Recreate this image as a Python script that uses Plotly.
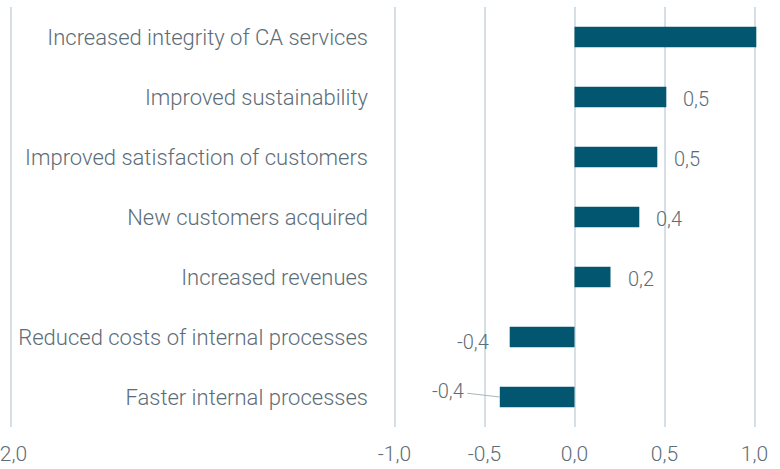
import plotly.graph_objects as go

categories = [
    "Increased integrity of CA services",
    "Improved sustainability",
    "Improved satisfaction of customers",
    "New customers acquired",
    "Increased revenues",
    "Reduced costs of internal processes",
    "Faster internal processes",
]
values = [1.01, 0.51, 0.46, 0.36, 0.20, -0.36, -0.415]
show_label = [False, True, True, True, True, True, True]

tick_values = [-1.0, -0.5, 0.0, 0.5, 1.0]
tick_texts = ["-1,0", "-0,5", "0,0", "0,5", "1,0"]
left_tick_text = "-2,0"

BAR = "#02566f"
TEXT = "#5c6d78"
GRID = "#d6dfe5"
FONT = "Roboto"

W, H = 780, 469
ML, MR, MT, MB = 8, 10, 7, 42
px_per_unit = 180.0
zero_px = 574.5
x_min = (ML - zero_px) / px_per_unit
x_max = (W - MR - zero_px) / px_per_unit
left_tick = (10.5 - zero_px) / px_per_unit

fig = go.Figure()
fig.add_trace(go.Bar(
    x=values, y=categories, orientation="h",
    marker=dict(color=BAR, line=dict(width=0)),
    width=0.34, hoverinfo="skip",
))

def fmt(v):
    return ("%.1f" % v).replace(".", ",")

LBL = dict(family=FONT, size=20, color=TEXT, weight=300)
annotations = []
n = len(categories)
for i, (c, v, s) in enumerate(zip(categories, values, show_label)):
    if not s:
        continue
    if i == n - 1:
        annotations.append(dict(
            x=v, y=c, xref="x", yref="y", text=fmt(v),
            showarrow=True, arrowhead=0, arrowwidth=1, arrowcolor="#a9b5bd",
            ax=-52, ay=-6, standoff=0, startstandoff=2,
            font=LBL,
        ))
    elif v >= 0:
        annotations.append(dict(
            x=v, y=c, xref="x", yref="y", text=fmt(v), showarrow=False,
            xanchor="left", xshift=15, yshift=-2, font=LBL,
        ))
    else:
        annotations.append(dict(
            x=v, y=c, xref="x", yref="y", text=fmt(v), showarrow=False,
            xanchor="right", xshift=-19, yshift=-5, font=LBL,
        ))

fig.update_layout(
    width=W, height=H, autosize=False,
    margin=dict(l=ML, r=MR, t=MT, b=MB, pad=0),
    plot_bgcolor="white", paper_bgcolor="white",
    showlegend=False,
    font=dict(family=FONT, color=TEXT, size=20, weight=300),
    xaxis=dict(
        range=[x_min, x_max],
        tickvals=[left_tick] + tick_values,
        ticktext=[left_tick_text] + tick_texts,
        showgrid=True, gridcolor=GRID, gridwidth=2,
        zeroline=False, showline=False, ticks="",
        ticklabelstandoff=12, automargin=False,
        ticklabeloverflow="allow",
        tickfont=dict(family=FONT, size=21, color=TEXT, weight=300),
    ),
    yaxis=dict(
        categoryorder="array", categoryarray=categories[::-1],
        anchor="free", position=(368 - ML) / (W - ML - MR),
        showgrid=False, zeroline=False, showline=False, ticks="",
        automargin=False,
        tickfont=dict(family=FONT, size=22, color=TEXT, weight=300),
        range=[-0.5, n - 0.5],
    ),
    annotations=annotations,
    bargap=0.66,
)

fig.write_html(
    "out.html",
    config={"displayModeBar": False},
    post_script="document.body.style.margin='0';",
)
